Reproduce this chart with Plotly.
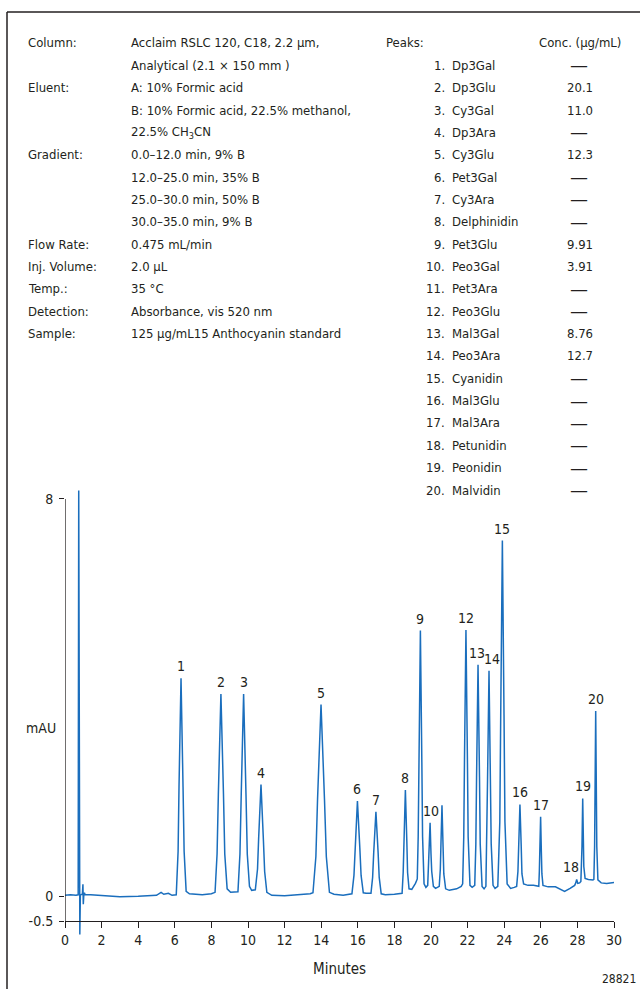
import plotly.graph_objects as go

# Chromatogram trace: (retention time [min], absorbance [mAU])
trace_points = [
    (0.00, 0.02), (0.30, 0.03), (0.60, 0.02), (0.72, 0.03), (0.75, 8.17), (0.78, 0.05),
    (0.81, -0.77), (0.84, 0.03), (0.95, 0.04), (0.98, 0.24), (1.00, -0.16), (1.03, 0.04),
    (1.06, 0.07), (1.10, 0.03), (1.40, 0.03), (2.00, 0.02), (3.00, -0.01), (4.00, 0.00),
    (5.00, 0.02), (5.25, 0.08), (5.40, 0.04), (5.65, 0.06), (5.85, 0.02),
    (6.08, 0.03), (6.18, 0.90), (6.23, 2.20), (6.34, 4.39), (6.45, 2.20), (6.51, 0.90),
    (6.62, 0.10), (6.80, 0.05), (7.50, 0.03), (8.00, 0.05),
    (8.20, 0.08), (8.31, 0.85), (8.38, 2.05), (8.52, 4.07), (8.66, 2.05), (8.73, 0.85),
    (8.86, 0.15), (9.05, 0.08),
    (9.45, 0.09), (9.56, 0.85), (9.63, 2.05), (9.76, 4.07), (9.89, 2.05), (9.96, 0.85),
    (10.08, 0.20), (10.20, 0.12),
    (10.40, 0.13), (10.52, 0.55), (10.58, 1.15), (10.71, 2.25), (10.84, 1.15), (10.91, 0.50),
    (11.03, 0.08), (11.30, 0.02), (12.00, 0.01), (13.00, 0.03), (13.40, 0.05),
    (13.55, 0.07), (13.71, 0.80), (13.80, 1.95), (13.99, 3.86), (14.18, 1.95), (14.28, 0.80),
    (14.45, 0.08), (14.70, 0.04), (15.20, 0.02), (15.55, 0.04),
    (15.68, 0.05), (15.79, 0.42), (15.85, 0.98), (15.98, 1.92), (16.11, 0.98), (16.18, 0.42),
    (16.30, 0.07), (16.45, 0.06),
    (16.72, 0.06), (16.81, 0.38), (16.87, 0.88), (16.99, 1.70), (17.11, 0.88), (17.17, 0.38),
    (17.28, 0.05), (17.50, 0.03), (18.00, 0.04), (18.35, 0.05),
    (18.42, 0.06), (18.48, 0.48), (18.52, 1.10), (18.60, 2.14), (18.68, 1.10), (18.72, 0.48),
    (18.80, 0.15), (18.95, 0.14), (19.15, 0.26),
    (19.25, 0.35), (19.30, 1.20), (19.34, 2.70), (19.42, 5.35), (19.50, 2.70), (19.54, 1.20),
    (19.62, 0.25), (19.72, 0.18),
    (19.82, 0.22), (19.87, 0.60), (19.90, 0.85), (19.95, 1.48), (20.00, 0.85), (20.04, 0.50),
    (20.13, 0.20), (20.25, 0.16),
    (20.45, 0.20), (20.51, 0.55), (20.54, 0.99), (20.60, 1.83), (20.66, 0.99), (20.70, 0.45),
    (20.80, 0.15), (21.00, 0.12), (21.40, 0.15), (21.65, 0.20),
    (21.73, 0.25), (21.79, 1.20), (21.83, 2.75), (21.91, 5.36), (21.99, 2.75), (22.03, 1.20),
    (22.13, 0.22), (22.25, 0.18),
    (22.39, 0.22), (22.45, 1.05), (22.49, 2.40), (22.57, 4.66), (22.65, 2.40), (22.69, 1.05),
    (22.79, 0.20), (22.90, 0.15),
    (23.00, 0.20), (23.05, 1.05), (23.09, 2.35), (23.17, 4.54), (23.25, 2.35), (23.29, 1.05),
    (23.39, 0.22), (23.50, 0.16),
    (23.65, 0.20), (23.76, 1.50), (23.81, 3.65), (23.90, 7.16), (23.99, 3.65), (24.04, 1.50),
    (24.16, 0.25), (24.35, 0.16), (24.55, 0.18),
    (24.68, 0.20), (24.75, 0.50), (24.79, 1.00), (24.86, 1.85), (24.93, 1.00), (24.97, 0.45),
    (25.06, 0.25), (25.30, 0.22), (25.60, 0.22), (25.85, 0.20),
    (25.89, 0.20), (25.92, 0.50), (25.95, 0.90), (25.99, 1.60), (26.03, 0.90), (26.06, 0.45),
    (26.12, 0.22), (26.40, 0.19), (26.80, 0.19), (27.00, 0.16), (27.30, 0.10), (27.60, 0.16),
    (27.85, 0.22),
    (27.91, 0.27), (27.96, 0.34), (28.02, 0.26), (28.12, 0.27),
    (28.19, 0.30), (28.23, 0.60), (28.25, 1.00), (28.29, 1.97), (28.33, 1.00), (28.35, 0.60),
    (28.42, 0.36), (28.60, 0.34), (28.85, 0.33),
    (28.90, 0.34), (28.94, 1.00), (28.96, 1.90), (29.00, 3.73), (29.04, 1.90), (29.06, 1.00),
    (29.12, 0.33), (29.30, 0.27), (29.60, 0.26), (30.00, 0.28),
]

# Labelled peaks (number, apex time, apex height)
peak_numbers = ["1", "2", "3", "4", "5", "6", "7", "8", "9", "10",
                "12", "13", "14", "15", "16", "17", "18", "19", "20"]
peak_times = [6.34, 8.52, 9.76, 10.71, 13.99, 15.98, 16.99, 18.60, 19.42, 19.95,
              21.91, 22.57, 23.17, 23.90, 24.86, 25.99, 27.96, 28.29, 29.00]
peak_heights = [4.39, 4.07, 4.07, 2.25, 3.86, 1.92, 1.70, 2.14, 5.35, 1.48,
                5.36, 4.66, 4.54, 7.16, 1.85, 1.60, 0.34, 1.97, 3.73]

# Peak table
peak_names = ["Dp3Gal", "Dp3Glu", "Cy3Gal", "Dp3Ara", "Cy3Glu", "Pet3Gal", "Cy3Ara",
              "Delphinidin", "Pet3Glu", "Peo3Gal", "Pet3Ara", "Peo3Glu", "Mal3Gal",
              "Peo3Ara", "Cyanidin", "Mal3Glu", "Mal3Ara", "Petunidin", "Peonidin", "Malvidin"]
peak_conc = ["—", "20.1", "11.0", "—", "12.3", "—", "—", "—", "9.91", "3.91",
             "—", "—", "8.76", "12.7", "—", "—", "—", "—", "—", "—"]

# Method conditions
cond_labels = ["Column:", "", "Eluent:", "", "", "Gradient:", "", "", "",
               "Flow Rate:", "Inj. Volume:", "Temp.:", "Detection:", "Sample:"]
cond_values = ["Acclaim RSLC 120, C18, 2.2 µm,", "Analytical (2.1 × 150 mm )",
               "A: 10% Formic acid", "B: 10% Formic acid, 22.5% methanol,",
               "22.5% CH<sub>3</sub>CN", "0.0–12.0 min, 9% B", "12.0–25.0 min, 35% B",
               "25.0–30.0 min, 50% B", "30.0–35.0 min, 9% B", "0.475 mL/min", "2.0 µL",
               "35 °C", "Absorbance, vis 520 nm", "125 µg/mL15 Anthocyanin standard"]

x_ticks = list(range(0, 31, 2))
y_ticks = [-0.5, 0, 8]
y_ticktext = ["-0.5", "0", "8"]

# ---- layout geometry (pixels) ----
W, H = 640, 989
L, R, T, B = 65, 26, 484, 48
PW, PH = W - L - R, H - T - B
Y_RANGE = [-0.9, 8.3]
X_RANGE = [0, 30]

FONT = "DejaVu Sans Condensed, Liberation Sans, sans-serif"
INK = "#231f20"
BLUE = "#1a6ebd"


def px(x):
    return (x - L) / PW


def py(y):
    return (H - B - y) / PH


t_vals = [p[0] for p in trace_points]
a_vals = [p[1] for p in trace_points]

fig = go.Figure()
fig.add_trace(go.Scatter(x=t_vals, y=a_vals, mode="lines",
                         line=dict(color=BLUE, width=1.5), hoverinfo="skip",
                         showlegend=False))

ann = []
label_font = dict(size=14, color=INK, family=FONT)
label_nudge = {"10": 1, "13": -1, "14": 3, "18": -6}
for n, t, h in zip(peak_numbers, peak_times, peak_heights):
    ann.append(dict(x=t, y=h, xref="x", yref="y", text=n, showarrow=False,
                    xanchor="center", yanchor="middle", yshift=12,
                    xshift=label_nudge.get(n, 0), font=label_font))

ROW0, ROW_STEP = 43, 22.35
txt = dict(size=13, color=INK, family=FONT)
dash_font = dict(size=20, color=INK, family=FONT)
for i, (lab, val) in enumerate(zip(cond_labels, cond_values)):
    yy = py(ROW0 + i * ROW_STEP)
    if lab:
        ann.append(dict(x=px(26), y=yy, xref="paper", yref="paper", text=lab,
                        showarrow=False, xanchor="left", yanchor="middle", font=txt))
    ann.append(dict(x=px(129), y=yy, xref="paper", yref="paper", text=val,
                    showarrow=False, xanchor="left", yanchor="middle", font=txt))

ann.append(dict(x=px(384), y=py(ROW0), xref="paper", yref="paper", text="Peaks:",
                showarrow=False, xanchor="left", yanchor="middle", font=txt))
ann.append(dict(x=px(580), y=py(ROW0), xref="paper", yref="paper", text="Conc. (µg/mL)",
                showarrow=False, xanchor="center", yanchor="middle", font=txt))
for i, (name, conc) in enumerate(zip(peak_names, peak_conc)):
    yy = py(ROW0 + (i + 1) * ROW_STEP)
    ann.append(dict(x=px(447), y=yy, xref="paper", yref="paper", text=f"{i + 1}.",
                    showarrow=False, xanchor="right", yanchor="middle", font=txt))
    ann.append(dict(x=px(450), y=yy, xref="paper", yref="paper", text=name,
                    showarrow=False, xanchor="left", yanchor="middle", font=txt))
    if conc == "—":
        ann.append(dict(x=px(579), y=yy, xref="paper", yref="paper", text=conc,
                        showarrow=False, xanchor="center", yanchor="middle",
                        font=dash_font))
    else:
        ann.append(dict(x=px(565), y=yy, xref="paper", yref="paper", text=conc,
                        showarrow=False, xanchor="left", yanchor="middle", font=txt))

ann.append(dict(x=px(41), y=py(728), xref="paper", yref="paper", text="mAU",
                showarrow=False, xanchor="center", yanchor="middle",
                font=dict(size=14, color=INK, family=FONT)))
ann.append(dict(x=px(339.5), y=py(969), xref="paper", yref="paper", text="Minutes",
                showarrow=False, xanchor="center", yanchor="middle",
                font=dict(size=15, color=INK, family=FONT)))
ann.append(dict(x=px(638), y=py(979), xref="paper", yref="paper", text="28821",
                showarrow=False, xanchor="right", yanchor="middle",
                font=dict(size=12, color=INK, family=FONT)))

# x axis sits at y = -0.5 inside the taller plotting window
x_axis_pos = (y_ticks[0] - Y_RANGE[0]) / (Y_RANGE[1] - Y_RANGE[0])

shapes = [
    # y axis line from -0.5 to 8
    dict(type="line", xref="x", yref="y", x0=0, x1=0, y0=y_ticks[0], y1=y_ticks[-1],
         line=dict(color=INK, width=1.3)),
    # frame
    dict(type="line", xref="paper", yref="paper", x0=px(7), x1=px(7), y0=py(12), y1=py(989),
         line=dict(color=INK, width=1.5)),
    dict(type="line", xref="paper", yref="paper", x0=px(7), x1=px(641), y0=py(12), y1=py(12),
         line=dict(color=INK, width=1.5)),
]

fig.update_layout(
    width=W, height=H, margin=dict(l=L, r=R, t=T, b=B),
    paper_bgcolor="white", plot_bgcolor="white",
    annotations=ann, shapes=shapes, showlegend=False,
    xaxis=dict(range=X_RANGE, anchor="free", position=x_axis_pos,
               tickvals=x_ticks, ticktext=[str(v) for v in x_ticks],
               ticks="outside", ticklen=6, tickwidth=1.3, tickcolor=INK,
               showline=True, linecolor=INK, linewidth=1.3,
               showgrid=False, zeroline=False,
               tickfont=dict(size=14, color=INK, family=FONT)),
    yaxis=dict(range=Y_RANGE, tickvals=y_ticks, ticktext=y_ticktext,
               ticks="outside", ticklen=5, tickwidth=1.3, tickcolor=INK,
               ticklabelstandoff=3,
               showline=False, showgrid=False, zeroline=False,
               tickfont=dict(size=14, color=INK, family=FONT)),
)

fig.write_html("out.html")
